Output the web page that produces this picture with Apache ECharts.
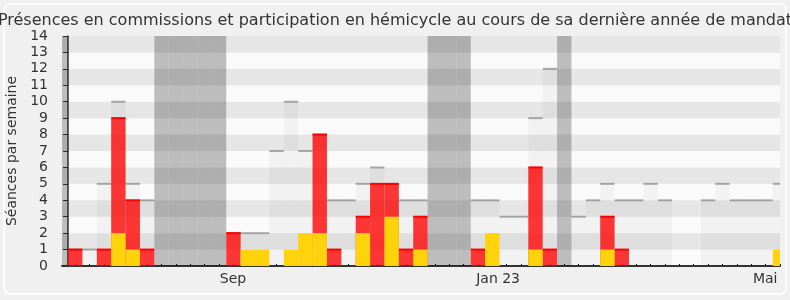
<!DOCTYPE html>
<html><head><meta charset="utf-8">
<script src="https://cdn.jsdelivr.net/npm/echarts@6/dist/echarts.min.js"></script>
<style>html,body{margin:0;padding:0;background:#f0f0f0}#c{width:790px;height:300px}</style>
</head><body><div id="c"></div>
<script>
const titleText = 'Présences en commissions et participation en hémicycle au cours de sa dernière année de mandat';
const yAxisName = 'Séances par semaine';
// weekly values, week index 0..49
const presence = [1,1,5,10,5,4,0,0,0,0, 0,2,2,2,7,10,7,8,4,4, 5,6,5,4,4,0,0,0,4,4, 3,3,9,12,0,3,4,5,4,4, 5,4,0,0,4,5,4,4,4,5];
const commission = [1,0,1,9,4,1,0,0,0,0, 0,2,0,0,0,0,0,8,1,0, 3,5,5,1,3,0,0,0,1,0, 0,0,6,1,0,0,0,3,1,0, 0,0,0,0,0,0,0,0,0,0];
const interventions = [0,0,0,2,1,0,0,0,0,0, 0,0,1,1,0,1,2,2,0,0, 2,0,3,0,1,0,0,0,0,2, 0,0,1,0,0,0,0,1,0,0, 0,0,0,0,0,0,0,0,0,1];
const holidayWeeks = [-1,6,7,8,9,10,25,26,27,34];
const monthLabels = ['Sep','Jan 23','Mai'];
const monthLabelPos = [11.47, 29.9, 48.47];
const yMax = 14;

const weekIdx = presence.map((_, i) => i);
const toData = arr => arr.map((v, i) => [i, v]).filter(d => d[1] > 0);

function barItem(fill, topColor, topW) {
  return function (params, api) {
    const i = api.value(0), v = api.value(1);
    const a = api.coord([i, v]), b = api.coord([i + 1, 0]);
    const cs = params.coordSys;
    const box = {x: cs.x, y: cs.y, width: cs.width, height: cs.height};
    const rect = echarts.graphic.clipRectByRect({x: a[0], y: a[1], width: b[0] - a[0], height: b[1] - a[1]}, box);
    if (!rect) return;
    const children = [{type: 'rect', shape: rect, style: {fill: fill}}];
    if (topColor) {
      children.push({type: 'rect', shape: {x: rect.x, y: a[1] - topW / 2, width: rect.width, height: topW}, style: {fill: topColor}});
    }
    return {type: 'group', children: children};
  };
}

const FONT = 'DejaVu Sans';
const chart = echarts.init(document.getElementById('c'), null, {renderer: 'canvas'});
chart.setOption({
  backgroundColor: '#f0f0f0',
  animation: false,
  title: {
    text: titleText, left: 'center', top: 8,
    textStyle: {fontFamily: FONT, fontSize: 16, fontWeight: 'normal', color: '#333'}
  },
  graphic: [{
    type: 'rect', z: -1, silent: true,
    shape: {x: 4, y: 4, width: 782, height: 290, r: 6},
    style: {fill: 'none', stroke: '#fcfcfc', lineWidth: 2}
  }],
  grid: {left: 62, right: 10, top: 36, bottom: 34, containLabel: false, outerBoundsMode: 'none'},
  xAxis: [{
    type: 'value', min: -0.42, max: 49.5, position: 'bottom',
    splitLine: {show: false},
    axisLine: {show: true, onZero: false, lineStyle: {color: '#333', width: 2}},
    axisTick: {show: false},
    axisLabel: {
      customValues: monthLabelPos, color: '#333', fontFamily: FONT, fontSize: 14, margin: 6,
      formatter: v => monthLabels[monthLabelPos.indexOf(v)] || ''
    }
  }, {
    type: 'value', min: -0.42, max: 49.5, position: 'top',
    splitLine: {show: false},
    axisLine: {show: false},
    axisLabel: {show: false},
    axisTick: {show: true, customValues: weekIdx.map(i => i + 0.5), length: 2, lineStyle: {color: '#111', width: 1}}
  }],
  yAxis: {
    type: 'value', min: 0, max: yMax, interval: 1,
    name: yAxisName, nameLocation: 'middle', nameGap: 42,
    nameTextStyle: {fontFamily: FONT, fontSize: 14, color: '#333'},
    axisLine: {show: true, lineStyle: {color: '#333', width: 1.5}},
    axisTick: {show: true, length: 5, lineStyle: {color: '#333'}},
    axisLabel: {color: '#333', fontFamily: FONT, fontSize: 14, margin: 14},
    splitLine: {show: false},
    splitArea: {show: true, areaStyle: {color: ['#fafafa', '#e6e6e6']}}
  },
  series: [
    {type: 'custom', name: 'Vacances', renderItem: barItem('rgba(0,0,0,0.245)'), data: holidayWeeks.map(w => [w, yMax]), encode: {x: 0, y: 1}, z: 1},
    {type: 'custom', name: 'Présences', renderItem: barItem('rgba(0,0,0,0.03)', 'rgba(0,0,0,0.3)', 2), data: toData(presence), encode: {x: 0, y: 1}, z: 2},
    {type: 'custom', name: 'Commissions', renderItem: barItem('rgba(255,0,0,0.78)', '#ff0000', 2), data: toData(commission), encode: {x: 0, y: 1}, z: 3},
    {type: 'custom', name: 'Interventions', renderItem: barItem('#ffd30b'), data: toData(interventions), encode: {x: 0, y: 1}, z: 4}
  ]
});
</script>
</body></html>
